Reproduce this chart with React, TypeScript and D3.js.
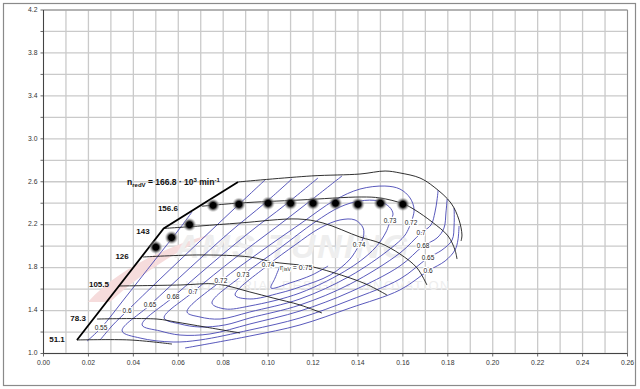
import React from "react";
import * as d3 from "d3";

type P = [number, number];

// ---- axes ----
const xTickVals = [0, 0.02, 0.04, 0.06, 0.08, 0.1, 0.12, 0.14, 0.16, 0.18, 0.2, 0.22, 0.24, 0.26];
const yTickVals = [1.0, 1.4, 1.8, 2.2, 2.6, 3.0, 3.4, 3.8, 4.2];
const xGridVals = d3.range(0, 27).map((i) => i / 100);
const yGridVals = d3.range(0, 17).map((i) => 1 + i * 0.2);

// ---- speed lines (n_redV, 10^3 min^-1) ----
const surgeLine: P[] = [[0.0149, 1.126], [0.0535, 2.165], [0.0866, 2.598]];
const speed511: P[] = [[0.0149, 1.126], [0.0385, 1.126], [0.0572, 1.088]];
const speed783: P[] = [[0.0238, 1.321], [0.0505, 1.321], [0.059, 1.293], [0.0719, 1.247], [0.0875, 1.191]];
const speed1055: P[] = [[0.0336, 1.629], [0.0608, 1.638], [0.0773, 1.647], [0.0919, 1.573], [0.1022, 1.517], [0.1142, 1.452], [0.124, 1.377]];
const speed126: P[] = [[0.0443, 1.899], [0.0697, 1.918], [0.0919, 1.899], [0.1022, 1.852], [0.1142, 1.824], [0.12, 1.806], [0.1365, 1.703], [0.1445, 1.638], [0.1529, 1.545]];
const speed143: P[] = [[0.0535, 2.165], [0.0697, 2.188], [0.0875, 2.216], [0.1133, 2.253], [0.1244, 2.216], [0.1409, 2.085], [0.1498, 2.029], [0.1587, 1.927], [0.1663, 1.797], [0.1707, 1.638]];
const speed1566: P[] = [[0.0705, 2.372], [0.0875, 2.402], [0.1142, 2.43], [0.1414, 2.458], [0.1498, 2.449], [0.1601, 2.395], [0.1654, 2.337], [0.173, 2.225], [0.1801, 2.095], [0.1832, 1.964], [0.1841, 1.88]];
const speed1668: P[] = [[0.0866, 2.598], [0.1192, 2.654], [0.1409, 2.672], [0.1521, 2.7], [0.1587, 2.682], [0.1676, 2.635], [0.1739, 2.551], [0.1814, 2.402], [0.185, 2.244], [0.1863, 2.104], [0.1859, 2.048]];
const speedLines = [speed511, speed783, speed1055, speed126, speed143, speed1566, speed1668];

const speedLabels = ["51.1", "78.3", "105.5", "126", "143", "156.6"];
const speedLabelPos: P[] = [[0.006, 1.126], [0.0154, 1.321], [0.0247, 1.638], [0.035, 1.899], [0.0443, 2.132], [0.0554, 2.346]];
const topLabelPos: P = [0.0372, 2.588];

// ---- measured points on 156.6 line / surge ----
const dotX = [0.05, 0.057, 0.065, 0.0755, 0.087, 0.1, 0.11, 0.12, 0.13, 0.14, 0.15, 0.16];
const dotY = [1.99, 2.08, 2.2, 2.38, 2.39, 2.4, 2.4, 2.4, 2.4, 2.39, 2.4, 2.39];

// ---- isentropic efficiency contours ----
const eff055: P[] = [[0.0194, 1.116], [0.0256, 1.238], [0.0363, 1.517], [0.0496, 1.871], [0.0608, 2.169], [0.0661, 2.318]];
const eff060a: P[] = [[0.0986, 2.616], [0.0853, 2.356], [0.0697, 2.048], [0.0519, 1.694], [0.0372, 1.396], [0.0309, 1.266], [0.0252, 1.126]];
const eff060b: P[] = [[0.063, 1.051], [0.0919, 1.163], [0.1142, 1.266], [0.1365, 1.424], [0.1587, 1.592], [0.1712, 1.769], [0.1788, 1.862], [0.1832, 1.964], [0.1845, 2.057], [0.185, 2.188]];
const eff065: P[] = [[0.1106, 2.626], [0.0986, 2.402], [0.083, 2.132], [0.0652, 1.797], [0.0474, 1.452], [0.035, 1.21], [0.043, 1.144], [0.0577, 1.107], [0.0697, 1.126], [0.0919, 1.219], [0.1142, 1.331], [0.1365, 1.498], [0.1587, 1.694], [0.1712, 1.89], [0.1774, 1.964], [0.1819, 2.057], [0.1828, 2.197], [0.1828, 2.356]];
const eff068: P[] = [[0.1222, 2.635], [0.1075, 2.383], [0.0919, 2.132], [0.0741, 1.824], [0.0577, 1.526], [0.0439, 1.266], [0.0519, 1.21], [0.0608, 1.172], [0.0741, 1.182], [0.0919, 1.275], [0.1142, 1.396], [0.1365, 1.573], [0.1587, 1.815], [0.169, 2.001], [0.1752, 2.076], [0.1783, 2.169], [0.1792, 2.318], [0.1797, 2.439]];
const eff070: P[] = [[0.1329, 2.654], [0.1187, 2.421], [0.1031, 2.169], [0.0853, 1.89], [0.0666, 1.573], [0.0537, 1.331], [0.0608, 1.275], [0.0697, 1.247], [0.0808, 1.266], [0.0919, 1.331], [0.1142, 1.452], [0.1365, 1.647], [0.1587, 1.936], [0.1681, 2.123], [0.1725, 2.197], [0.1743, 2.318], [0.1752, 2.43], [0.1757, 2.523]];
const eff072: P[] = [[0.1636, 2.216], [0.165, 2.337], [0.1632, 2.449], [0.1587, 2.532], [0.152, 2.56], [0.1409, 2.532], [0.1298, 2.43], [0.1142, 2.206], [0.0964, 1.946], [0.079, 1.675], [0.0639, 1.387], [0.0697, 1.34], [0.0786, 1.321], [0.0919, 1.387], [0.1142, 1.508], [0.1365, 1.722], [0.1543, 1.974], [0.161, 2.104], [0.1636, 2.216]];
const eff073: P[] = [[0.1543, 2.234], [0.1556, 2.3], [0.154, 2.365], [0.149, 2.421], [0.1409, 2.421], [0.132, 2.365], [0.1209, 2.225], [0.1053, 1.983], [0.0888, 1.731], [0.075, 1.47], [0.0808, 1.415], [0.0919, 1.443], [0.1142, 1.564], [0.1365, 1.797], [0.1476, 1.983], [0.1525, 2.132], [0.1543, 2.234]];
const eff074: P[] = [[0.1405, 2.011], [0.1423, 2.076], [0.1423, 2.169], [0.1387, 2.244], [0.132, 2.244], [0.1231, 2.169], [0.112, 2.011], [0.1, 1.824], [0.0853, 1.545], [0.0919, 1.508], [0.1053, 1.564], [0.1142, 1.62], [0.1276, 1.731], [0.1365, 1.88], [0.1405, 2.011]];
const eff075: P[] = [[0.1053, 1.815], [0.1031, 1.703], [0.1013, 1.61], [0.1097, 1.657], [0.1195, 1.731], [0.1267, 1.815]];
const effLines = [eff055, eff060a, eff060b, eff065, eff068, eff070, eff072, eff073, eff074, eff075];

const effLabels = ["0.55", "0.6", "0.65", "0.68", "0.7", "0.72", "0.73", "0.74", "0.74", "0.73", "0.72", "0.7", "0.68", "0.65", "0.6"];
const effLabelPos: P[] = [
  [0.0256, 1.238], [0.0372, 1.396], [0.0474, 1.452], [0.0577, 1.526], [0.0666, 1.573], [0.079, 1.675], [0.0888, 1.731], [0.1, 1.824],
  [0.1405, 2.011], [0.1543, 2.234], [0.1636, 2.216], [0.1681, 2.123], [0.169, 2.001], [0.1712, 1.89], [0.1712, 1.769],
];
const etaLabelPos: P = [0.1053, 1.797];

const FONT = "'Liberation Sans', Arial, sans-serif";

export default function App() {
  const x = d3.scaleLinear().domain([0, 0.26]).range([43.5, 627.5]);
  const y = d3.scaleLinear().domain([1, 4.2]).range([353.5, 10]);
  const line = d3.line<P>().x((d) => x(d[0])).y((d) => y(d[1])).curve(d3.curveCatmullRom.alpha(0.5));
  const straight = d3.line<P>().x((d) => x(d[0])).y((d) => y(d[1]));
  const [x0, x1] = x.range();
  const [y0, y1] = y.range();

  return (
    <svg width={640} height={389} style={{ position: "absolute", left: 0, top: 0, background: "#fff" }} fontFamily={FONT}>
      <defs>
        <radialGradient id="dotg">
          <stop offset="0" stopColor="#000" />
          <stop offset="0.42" stopColor="#000" />
          <stop offset="0.6" stopColor="#444" stopOpacity="0.8" />
          <stop offset="1" stopColor="#bbb" stopOpacity="0" />
        </radialGradient>
      </defs>
      <rect x={0} y={0} width={640} height={389} fill="#fff" />
      <rect x={3.5} y={3.5} width={632} height={382} fill="none" stroke="#8a8a8a" strokeWidth={1.2} />

      {/* grid */}
      {xGridVals.map((v) => (
        <line key={"gx" + v} x1={x(v)} x2={x(v)} y1={y1} y2={y0} stroke="#cacaca" strokeWidth={1.3} />
      ))}
      {yGridVals.map((v) => (
        <line key={"gy" + v} x1={x0} x2={x1} y1={y(v)} y2={y(v)} stroke="#cacaca" strokeWidth={1.3} />
      ))}
      <line x1={x0} x2={x1} y1={y1} y2={y1} stroke="#909090" strokeWidth={1} />
      <line x1={x1} x2={x1} y1={y1} y2={y0} stroke="#909090" strokeWidth={1} />

      {/* watermark */}
      <g>
        <path d="M88,302 C115,272 160,248 212,234 C172,254 138,276 110,302 Z" fill="#f6dcdc" />
        <text x={175} y={258} fontSize={34} fontWeight="bold" fontStyle="italic" fill="#eeeeee" letterSpacing={2}>AMS TUNING</text>
        <text x={185} y={290} fontSize={13} fill="#eeeeee" letterSpacing={1.5}>INDUSTRIAL DESIGN • INNOVATION</text>
      </g>

      {/* axes */}
      <line x1={x0} x2={x0} y1={y1} y2={y0} stroke="#444" strokeWidth={1} />
      <line x1={x0} x2={x1} y1={y0} y2={y0} stroke="#444" strokeWidth={1} />
      {yGridVals.map((v) => (
        <line key={"ty" + v} x1={x0 - 3} x2={x0} y1={y(v)} y2={y(v)} stroke="#444" strokeWidth={0.8} />
      ))}
      {xTickVals.map((v) => (
        <line key={"tx" + v} x1={x(v)} x2={x(v)} y1={y0} y2={y0 + 3} stroke="#444" strokeWidth={0.8} />
      ))}
      {yTickVals.map((v) => (
        <text key={"ly" + v} x={x0 - 6} y={y(v)} fontSize={6.8} fill="#333" textAnchor="end" dominantBaseline="middle">
          {d3.format(".1f")(v)}
        </text>
      ))}
      {xTickVals.map((v) => (
        <text key={"lx" + v} x={x(v)} y={y0 + 10} fontSize={6.8} fill="#333" textAnchor="middle" dominantBaseline="middle">
          {d3.format(".2f")(v)}
        </text>
      ))}

      {/* efficiency contours */}
      {effLines.map((d, i) => (
        <path key={"e" + i} d={line(d) || ""} fill="none" stroke="#4646b4" strokeWidth={0.9} />
      ))}

      {/* speed lines */}
      {speedLines.map((d, i) => (
        <path key={"s" + i} d={line(d) || ""} fill="none" stroke="#1a1a1a" strokeWidth={0.9} />
      ))}
      <path d={straight(surgeLine) || ""} fill="none" stroke="#000" strokeWidth={1.8} />

      {/* dots */}
      {dotX.map((v, i) => (
        <circle key={"d" + i} cx={x(v)} cy={y(dotY[i])} r={7} fill="url(#dotg)" />
      ))}

      {/* efficiency labels */}
      {effLabels.map((t, i) => (
        <text key={"el" + i} x={x(effLabelPos[i][0])} y={y(effLabelPos[i][1])} fontSize={6.5} fill="#222" textAnchor="middle"
          dominantBaseline="middle" stroke="#fff" strokeWidth={2.5} paintOrder="stroke" strokeLinejoin="round">
          {t}
        </text>
      ))}
      <text x={x(etaLabelPos[0])} y={y(etaLabelPos[1])} fontSize={7} fill="#222" dominantBaseline="middle"
        stroke="#fff" strokeWidth={2.5} paintOrder="stroke" strokeLinejoin="round">
        η<tspan fontSize={5} dy={2}>isV</tspan><tspan dy={-2}> = 0.75</tspan>
      </text>

      {/* speed labels */}
      {speedLabels.map((t, i) => (
        <text key={"sl" + i} x={x(speedLabelPos[i][0])} y={y(speedLabelPos[i][1])} fontSize={8} fontWeight="bold" fill="#111"
          textAnchor="middle" dominantBaseline="middle">
          {t}
        </text>
      ))}
      <text x={x(topLabelPos[0])} y={y(topLabelPos[1])} fontSize={8.5} fontWeight="bold" fill="#111" dominantBaseline="middle">
        n<tspan fontSize={6} dy={2}>redV</tspan><tspan dy={-2}> = 166.8 · 10</tspan><tspan fontSize={6} dy={-3}>3</tspan>
        <tspan dy={3}> min</tspan><tspan fontSize={6} dy={-3}>-1</tspan>
      </text>
    </svg>
  );
}
